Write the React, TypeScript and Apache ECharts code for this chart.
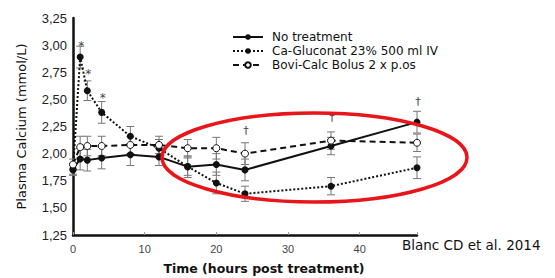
import React, { useEffect, useRef } from "react";
import * as echarts from "echarts";

const hours = [0, 1, 2, 4, 8, 12, 16, 20, 24, 36, 48];
const noTreatment = [1.86, 1.95, 1.94, 1.96, 1.99, 1.97, 1.88, 1.9, 1.85, 2.07, 2.29];
const noTreatmentErr = [0.05, 0.1, 0.1, 0.1, 0.1, 0.08, 0.08, 0.1, 0.1, 0.08, 0.1];
const caGluconat = [1.85, 2.89, 2.58, 2.38, 2.16, 2.05, 1.88, 1.73, 1.63, 1.7, 1.87];
const caGluconatErr = [0.05, 0.1, 0.09, 0.1, 0.09, 0.08, 0.1, 0.1, 0.07, 0.08, 0.1];
const boviCalc = [1.9, 2.06, 2.07, 2.07, 2.08, 2.08, 2.05, 2.05, 2.0, 2.12, 2.1];
const boviCalcErr = [0.05, 0.1, 0.09, 0.09, 0.08, 0.08, 0.08, 0.1, 0.1, 0.08, 0.08];

const seriesNames = ["No treatment", "Ca-Gluconat 23% 500 ml IV", "Bovi-Calc Bolus 2 x p.os"];

const starHours = [1, 2, 4];
const starValues = [2.99, 2.73, 2.51];
const daggerHours = [24, 36, 48];
const daggerValues = [2.21, 2.33, 2.48];

const yTicks = { min: 1.25, max: 3.25, interval: 0.25 };
const xTicks = { min: 0, max: 48, interval: 10 };

const INK = "#111";

function pairs(xs: number[], ys: number[]) {
  return xs.map((x, i) => [x, ys[i]]);
}

function errData(values: number[], errs: number[]) {
  return hours.map((h, i) => [h, values[i] - errs[i], values[i] + errs[i]]);
}

function errorBarSeries(values: number[], errs: number[]) {
  return {
    type: "custom",
    silent: true,
    z: 1,
    data: errData(values, errs),
    encode: { x: 0, y: [1, 2] },
    clip: false,
    renderItem: (params: any, api: any) => {
      const x = api.value(0);
      const lo = api.coord([x, api.value(1)]);
      const hi = api.coord([x, api.value(2)]);
      const w = 4;
      const style = { stroke: "#777", lineWidth: 1 };
      return {
        type: "group",
        children: [
          { type: "line", shape: { x1: lo[0], y1: lo[1], x2: hi[0], y2: hi[1] }, style },
          { type: "line", shape: { x1: lo[0] - w, y1: lo[1], x2: lo[0] + w, y2: lo[1] }, style },
          { type: "line", shape: { x1: hi[0] - w, y1: hi[1], x2: hi[0] + w, y2: hi[1] }, style },
        ],
      };
    },
  };
}

function markSeries(xs: number[], ys: number[], ch: string, size: number) {
  return {
    type: "custom",
    silent: true,
    z: 3,
    clip: false,
    data: pairs(xs, ys),
    encode: { x: 0, y: 1 },
    renderItem: (params: any, api: any) => {
      const p = api.coord([api.value(0), api.value(1)]);
      return {
        type: "text",
        x: p[0] + 1,
        y: p[1],
        style: {
          text: ch,
          fill: "#444",
          fontSize: size,
          fontFamily: "DejaVu Sans",
          align: "center",
          verticalAlign: "middle",
        },
      };
    },
  };
}

export default function App() {
  const ref = useRef<HTMLDivElement>(null);

  useEffect(() => {
    if (!ref.current) return;
    const chart = echarts.init(ref.current, undefined, { renderer: "svg" });
    const lineCommon = {
      type: "line",
      symbol: "circle",
      symbolSize: 7,
      clip: false,
      z: 2,
    };
    chart.setOption({
      animation: false,
      backgroundColor: "#fff",
      grid: { left: 73, right: 138, top: 18, bottom: 43, containLabel: false },
      legend: {
        data: seriesNames,
        orient: "vertical",
        left: 232,
        top: 31,
        padding: 0,
        itemWidth: 30,
        itemHeight: 7,
        itemGap: 2,
        textStyle: { fontFamily: "DejaVu Sans", fontSize: 12, color: "#111", padding: [0, 0, 0, 4] },
        selectedMode: false,
      },
      xAxis: {
        type: "value",
        min: xTicks.min,
        max: xTicks.max,
        interval: xTicks.interval,
        splitLine: { show: false },
        axisLine: { lineStyle: { color: INK, width: 2.5 } },
        axisTick: { show: true, inside: true, length: 3, lineStyle: { color: "#999" } },
        axisLabel: {
          fontFamily: "Liberation Sans",
          fontSize: 11,
          color: "#444",
          margin: 8,
          formatter: (v: number) => (v % 10 === 0 ? String(v) : ""),
        },
      },
      yAxis: {
        type: "value",
        min: yTicks.min,
        max: yTicks.max,
        interval: yTicks.interval,
        splitLine: { show: false },
        axisLine: { show: true, lineStyle: { color: INK, width: 2.5 } },
        axisTick: { show: false },
        axisLabel: {
          fontFamily: "Liberation Sans",
          fontSize: 13,
          color: "#222",
          margin: 6,
          formatter: (v: number) => v.toFixed(2).replace(".", ","),
        },
        name: "Plasma Calcium (mmol/L)",
        nameLocation: "middle",
        nameGap: 45,
        nameTextStyle: { fontFamily: "DejaVu Sans", fontSize: 13, color: "#111" },
      },
      graphic: [
        {
          type: "ellipse",
          shape: { cx: 314.5, cy: 157.5, rx: 152.5, ry: 44.5 },
          style: { fill: "none", stroke: "#e8161b", lineWidth: 3.5 },
          z: 100,
          silent: true,
        },
        {
          type: "text",
          x: 264,
          y: 268,
          style: {
            text: "Time (hours post treatment)",
            fontFamily: "DejaVu Sans",
            fontWeight: "bold",
            fontSize: 12.5,
            fill: "#111",
            align: "center",
            verticalAlign: "middle",
          },
        },
        {
          type: "text",
          x: 402,
          y: 245,
          style: {
            text: "Blanc CD et al. 2014",
            fontFamily: "DejaVu Sans",
            fontSize: 13.5,
            fill: "#111",
            align: "left",
            verticalAlign: "middle",
          },
        },
      ],
      series: [
        errorBarSeries(noTreatment, noTreatmentErr),
        errorBarSeries(caGluconat, caGluconatErr),
        errorBarSeries(boviCalc, boviCalcErr),
        {
          ...lineCommon,
          name: seriesNames[0],
          data: pairs(hours, noTreatment),
          lineStyle: { color: INK, width: 2, type: "solid" },
          itemStyle: { color: INK },
        },
        {
          ...lineCommon,
          name: seriesNames[1],
          data: pairs(hours, caGluconat),
          lineStyle: { color: INK, width: 2, type: "dotted" },
          itemStyle: { color: INK },
        },
        {
          ...lineCommon,
          name: seriesNames[2],
          data: pairs(hours, boviCalc),
          lineStyle: { color: INK, width: 2, type: [6, 4] },
          itemStyle: { color: "#fff", borderColor: INK, borderWidth: 1 },
        },
        markSeries(starHours, starValues, "*", 12),
        markSeries(daggerHours, daggerValues, "†", 11),
      ],
    });
    return () => chart.dispose();
  }, []);

  return (
    <div
      ref={ref}
      style={{ position: "absolute", left: 0, top: 0, width: 555, height: 278 }}
    />
  );
}
